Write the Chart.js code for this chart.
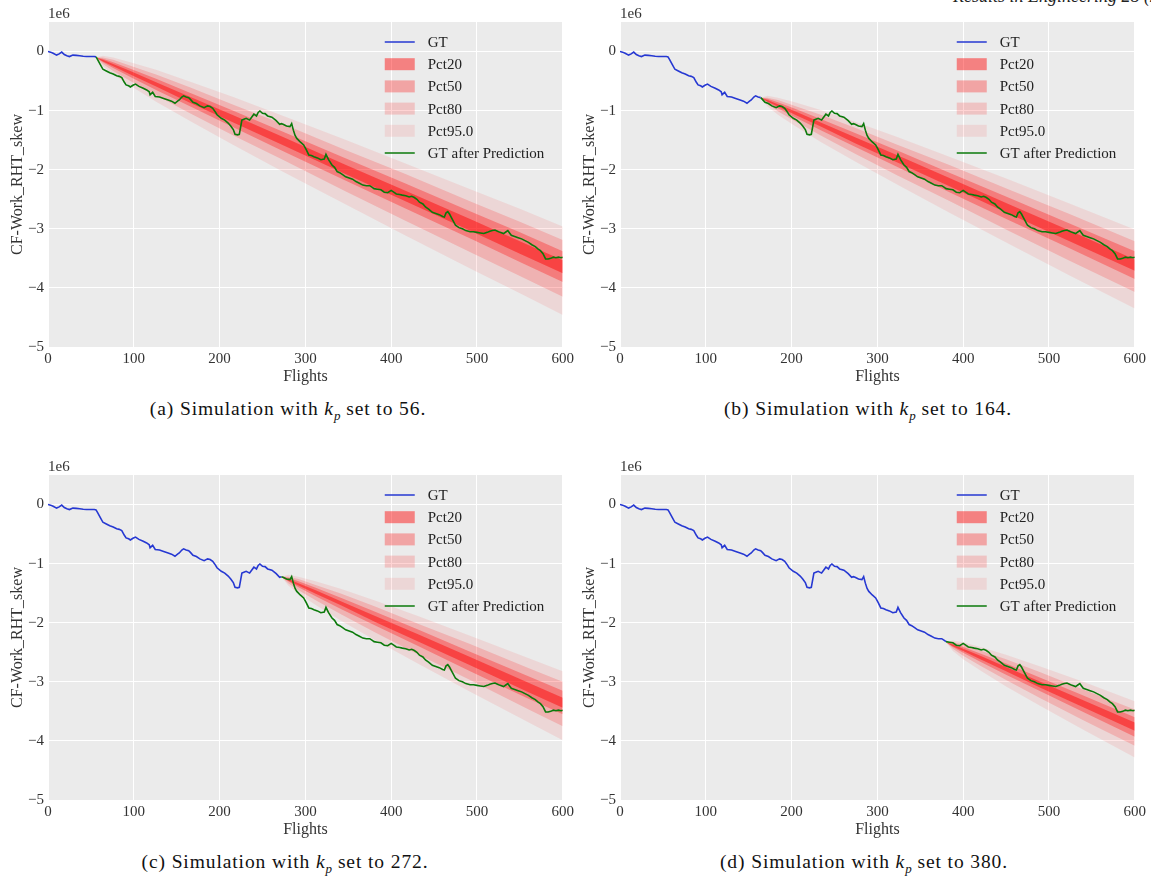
<!DOCTYPE html>
<html><head><meta charset="utf-8">
<script src="https://cdn.jsdelivr.net/npm/chart.js@4/dist/chart.umd.min.js"></script>
<style>
html,body{margin:0;padding:0;background:#fff;width:1151px;height:882px;overflow:hidden;position:relative;font-family:"Liberation Serif",serif;}
canvas.pan{position:absolute;}
.cap{position:absolute;font-size:19.5px;letter-spacing:0.9px;line-height:22px;color:#111;white-space:nowrap;transform:translateX(-50%);}
.cap sub{font-size:13px;letter-spacing:0;}
#hdr{position:absolute;left:953px;top:-13px;font-style:italic;font-size:18px;line-height:18px;white-space:nowrap;color:#222;}
</style></head><body>
<div id="hdr">Results in Engineering 28 (2025)</div>
<canvas id="ca" class="pan" width="577" height="390" style="left:0px;top:0px"></canvas>
<canvas id="cb" class="pan" width="577" height="390" style="left:572px;top:0px"></canvas>
<canvas id="cc" class="pan" width="577" height="390" style="left:0px;top:453px"></canvas>
<canvas id="cd" class="pan" width="577" height="390" style="left:572px;top:453px"></canvas>
<div class="cap" style="left:288px;top:398px">(a) Simulation with <i>k</i><sub><i>p</i></sub> set to 56.</div>
<div class="cap" style="left:868px;top:398px">(b) Simulation with <i>k</i><sub><i>p</i></sub> set to 164.</div>
<div class="cap" style="left:285px;top:851px">(c) Simulation with <i>k</i><sub><i>p</i></sub> set to 272.</div>
<div class="cap" style="left:864px;top:851px">(d) Simulation with <i>k</i><sub><i>p</i></sub> set to 380.</div>
<script>
// ---------- data ----------
const xTicks = [0, 100, 200, 300, 400, 500, 600];
const yTicks = [-5, -4, -3, -2, -1, 0];
const offsetLabel = '1e6';
const xTitle = 'Flights';
const yTitle = 'CF-Work_RHT_skew';
const legendLabels = ['GT', 'Pct20', 'Pct50', 'Pct80', 'Pct95.0', 'GT after Prediction'];
const kpValues = [56, 164, 272, 380];

const gtFlights = [0,3,6,10,13,16,19,22,25,29,33,37,41,45,50,54,56,58,61,64,68,72,76,80,83,86,89,91,94,96,99,102,106,111,115,118,119,122,125,130,134,140,144,148,151,153,156,158,161,164,166,169,173,177,182,186,189,192,195,197,202,206,210,213,216,218,221,223,226,229,231,235,238,240,243,245,247,250,253,256,261,266,270,272,274,278,282,284,286,288,290,294,298,301,304,307,310,314,318,322,324,327,331,334,337,340,343,347,351,355,359,363,367,371,375,378,380,384,388,392,396,400,403,406,410,413,417,421,424,427,430,433,437,440,444,448,452,456,460,462,464,466,468,471,475,479,483,487,492,496,500,504,508,512,515,518,521,524,527,531,534,536,538,540,544,548,552,556,560,564,568,571,574,577,580,583,586,589,592,595,598,600];
const gtValues = [0,-0.01,-0.03,-0.06,-0.04,-0.01,-0.05,-0.07,-0.085,-0.06,-0.065,-0.07,-0.08,-0.085,-0.085,-0.085,-0.09,-0.14,-0.22,-0.30,-0.33,-0.36,-0.38,-0.41,-0.42,-0.44,-0.52,-0.565,-0.58,-0.60,-0.57,-0.55,-0.59,-0.62,-0.65,-0.68,-0.73,-0.69,-0.76,-0.77,-0.79,-0.82,-0.84,-0.875,-0.84,-0.82,-0.77,-0.75,-0.77,-0.78,-0.81,-0.86,-0.88,-0.92,-0.95,-0.92,-0.93,-0.96,-1.02,-1.07,-1.13,-1.16,-1.21,-1.26,-1.32,-1.40,-1.41,-1.40,-1.16,-1.14,-1.13,-1.16,-1.10,-1.06,-1.09,-1.03,-1.006,-1.045,-1.05,-1.09,-1.11,-1.17,-1.23,-1.22,-1.23,-1.26,-1.27,-1.22,-1.33,-1.42,-1.47,-1.53,-1.58,-1.66,-1.75,-1.76,-1.78,-1.80,-1.83,-1.82,-1.74,-1.83,-1.92,-1.96,-2.03,-2.05,-2.08,-2.12,-2.14,-2.16,-2.20,-2.23,-2.26,-2.27,-2.27,-2.30,-2.32,-2.33,-2.34,-2.38,-2.39,-2.35,-2.38,-2.41,-2.42,-2.43,-2.44,-2.46,-2.45,-2.47,-2.50,-2.55,-2.58,-2.63,-2.67,-2.72,-2.74,-2.76,-2.79,-2.80,-2.73,-2.71,-2.75,-2.83,-2.94,-2.98,-3.00,-3.03,-3.05,-3.05,-3.06,-3.07,-3.08,-3.06,-3.04,-3.03,-3.02,-3.04,-3.06,-3.08,-3.05,-3.03,-3.07,-3.11,-3.13,-3.15,-3.17,-3.20,-3.23,-3.27,-3.30,-3.34,-3.37,-3.42,-3.51,-3.51,-3.50,-3.48,-3.49,-3.48,-3.49,-3.48];

// panel (a) kp = 56
const bandFlightsA = [56,64,76,96,126,166,216,276,346,416,496,550,600];
const p95HiA = [-0.10,-0.07,-0.10,-0.18,-0.31,-0.51,-0.77,-1.10,-1.49,-1.89,-2.35,-2.66,-2.96];
const p80HiA = [-0.10,-0.10,-0.14,-0.24,-0.39,-0.61,-0.90,-1.24,-1.66,-2.07,-2.56,-2.88,-3.19];
const p50HiA = [-0.10,-0.12,-0.18,-0.29,-0.46,-0.70,-1.00,-1.37,-1.80,-2.23,-2.73,-3.06,-3.38];
const p20HiA = [-0.10,-0.14,-0.21,-0.33,-0.52,-0.77,-1.08,-1.46,-1.91,-2.35,-2.86,-3.21,-3.53];
const p20LoA = [-0.10,-0.17,-0.25,-0.39,-0.59,-0.87,-1.20,-1.60,-2.07,-2.53,-3.06,-3.42,-3.75];
const p50LoA = [-0.10,-0.18,-0.28,-0.43,-0.65,-0.93,-1.28,-1.70,-2.18,-2.65,-3.19,-3.56,-3.90];
const p80LoA = [-0.10,-0.21,-0.33,-0.50,-0.74,-1.05,-1.42,-1.85,-2.36,-2.86,-3.42,-3.80,-4.15];
const p95LoA = [-0.10,-0.25,-0.39,-0.58,-0.85,-1.18,-1.58,-2.05,-2.58,-3.11,-3.70,-4.09,-4.46];

// panel (b) kp = 164
const bandFlightsB = [164,172,184,204,234,274,324,384,454,524,600];
const p95HiB = [-0.78,-0.75,-0.78,-0.86,-0.99,-1.19,-1.45,-1.78,-2.17,-2.57,-3.01];
const p80HiB = [-0.78,-0.78,-0.82,-0.92,-1.07,-1.29,-1.58,-1.92,-2.34,-2.75,-3.21];
const p50HiB = [-0.78,-0.80,-0.86,-0.97,-1.14,-1.38,-1.68,-2.05,-2.48,-2.91,-3.38];
const p20HiB = [-0.78,-0.82,-0.89,-1.01,-1.20,-1.45,-1.76,-2.14,-2.59,-3.03,-3.52];
const p20LoB = [-0.78,-0.85,-0.93,-1.07,-1.27,-1.55,-1.88,-2.28,-2.75,-3.21,-3.71];
const p50LoB = [-0.78,-0.86,-0.96,-1.11,-1.33,-1.61,-1.96,-2.38,-2.86,-3.33,-3.85];
const p80LoB = [-0.78,-0.89,-1.01,-1.18,-1.42,-1.73,-2.10,-2.53,-3.04,-3.54,-4.07];
const p95LoB = [-0.78,-0.93,-1.07,-1.26,-1.53,-1.86,-2.26,-2.73,-3.26,-3.79,-4.35];

// panel (c) kp = 272
const bandFlightsC = [272,280,292,312,342,382,432,492,562,600];
const p95HiC = [-1.22,-1.19,-1.22,-1.30,-1.43,-1.63,-1.89,-2.22,-2.61,-2.82];
const p80HiC = [-1.22,-1.22,-1.26,-1.36,-1.51,-1.73,-2.02,-2.36,-2.78,-3.00];
const p50HiC = [-1.22,-1.24,-1.30,-1.41,-1.58,-1.82,-2.12,-2.49,-2.92,-3.15];
const p20HiC = [-1.22,-1.26,-1.33,-1.45,-1.64,-1.89,-2.20,-2.58,-3.03,-3.27];
const p20LoC = [-1.22,-1.29,-1.37,-1.51,-1.71,-1.99,-2.32,-2.72,-3.19,-3.44];
const p50LoC = [-1.22,-1.30,-1.40,-1.55,-1.77,-2.05,-2.40,-2.82,-3.30,-3.55];
const p80LoC = [-1.22,-1.33,-1.45,-1.62,-1.86,-2.17,-2.54,-2.97,-3.48,-3.75];
const p95LoC = [-1.22,-1.37,-1.51,-1.70,-1.97,-2.30,-2.70,-3.17,-3.70,-3.99];

// panel (d) kp = 380
const bandFlightsD = [380,388,400,420,450,490,540,600];
const p95HiD = [-2.33,-2.30,-2.33,-2.41,-2.54,-2.74,-3.00,-3.33];
const p80HiD = [-2.33,-2.33,-2.37,-2.47,-2.62,-2.84,-3.13,-3.47];
const p50HiD = [-2.33,-2.35,-2.41,-2.52,-2.69,-2.93,-3.23,-3.60];
const p20HiD = [-2.33,-2.37,-2.44,-2.56,-2.75,-3.00,-3.31,-3.69];
const p20LoD = [-2.33,-2.40,-2.48,-2.62,-2.82,-3.10,-3.43,-3.83];
const p50LoD = [-2.33,-2.41,-2.51,-2.66,-2.88,-3.16,-3.51,-3.93];
const p80LoD = [-2.33,-2.44,-2.56,-2.73,-2.97,-3.28,-3.65,-4.08];
const p95LoD = [-2.33,-2.48,-2.62,-2.81,-3.08,-3.41,-3.81,-4.28];

// ---------- styling ----------
const FONT = '"Liberation Serif", "Times New Roman", serif';
const TXT = '#333333';
const BLUE = '#2638d2';
const GREEN = '#0b7a0b';
const bandAlpha = {p20: 0.45, p50: 0.30, p80: 0.17, p95: 0.085};
const red = a => 'rgba(255,0,0,' + a + ')';

const pts = (xs, ys) => xs.map((x, i) => ({x: x, y: ys[i]}));

const bgPlugin = {
  id: 'bg',
  beforeDraw(chart) {
    const {ctx, chartArea: a} = chart;
    ctx.save();
    ctx.fillStyle = '#EBEBEB';
    ctx.fillRect(a.left, a.top, a.right - a.left, a.bottom - a.top);
    ctx.restore();
  }
};

const decoPlugin = {
  id: 'deco',
  afterDraw(chart) {
    const {ctx, chartArea: a} = chart;
    ctx.save();
    ctx.font = '15px ' + FONT;
    ctx.fillStyle = TXT;
    ctx.textBaseline = 'middle';
    ctx.textAlign = 'left';
    ctx.fillText(offsetLabel, a.left, a.top - 8);
    // legend
    const lx = a.right - 178, lw = 30, tx = a.right - 135;
    const swatch = [null, bandAlpha.p20, bandAlpha.p50, bandAlpha.p80, bandAlpha.p95, null];
    legendLabels.forEach((lab, i) => {
      const y = a.top + 20 + i * 22.2;
      if (i === 0 || i === 5) {
        ctx.strokeStyle = i === 0 ? BLUE : GREEN;
        ctx.lineWidth = 1.5;
        ctx.beginPath(); ctx.moveTo(lx, y); ctx.lineTo(lx + lw, y); ctx.stroke();
      } else {
        ctx.fillStyle = red(swatch[i]);
        ctx.fillRect(lx, y - 6, lw, 12);
      }
      ctx.fillStyle = '#222';
      ctx.font = '15px ' + FONT;
      ctx.fillText(lab, tx, y + 1);
    });
    ctx.restore();
  }
};

function makePanel(id, kp, bx, b) {
  const blue = [], green = [];
  gtFlights.forEach((f, i) => {
    if (f <= kp) blue.push({x: f, y: gtValues[i]});
    if (f >= kp) green.push({x: f, y: gtValues[i]});
  });
  const line = (data, color) => ({data, borderColor: color, borderWidth: 1.6, pointRadius: 0, tension: 0, fill: false, order: 0});
  const hi = (data, a) => ({data, borderWidth: 0, borderColor: 'rgba(0,0,0,0)', backgroundColor: red(a), pointRadius: 0, tension: 0, fill: '+1', order: 1});
  const lo = (data) => ({data, borderWidth: 0, borderColor: 'rgba(0,0,0,0)', pointRadius: 0, tension: 0, fill: false, order: 1});
  const datasets = [
    line(blue, BLUE),
    line(green, GREEN),
    hi(pts(bx, b[0]), bandAlpha.p95), lo(pts(bx, b[7])),
    hi(pts(bx, b[1]), bandAlpha.p80), lo(pts(bx, b[6])),
    hi(pts(bx, b[2]), bandAlpha.p50), lo(pts(bx, b[5])),
    hi(pts(bx, b[3]), bandAlpha.p20), lo(pts(bx, b[4]))
  ];
  new Chart(document.getElementById(id), {
    type: 'line',
    data: {datasets},
    plugins: [bgPlugin, decoPlugin],
    options: {
      responsive: false, animation: false, devicePixelRatio: 1,
      layout: {padding: {top: 22, right: 12, left: 0, bottom: 0}},
      plugins: {legend: {display: false}, tooltip: {enabled: false}},
      scales: {
        x: {
          type: 'linear', min: 0, max: 600,
          afterBuildTicks: s => { s.ticks = xTicks.map(v => ({value: v})); },
          afterFit: s => { s.height = 43; },
          grid: {color: '#ffffff', lineWidth: 1, drawTicks: false},
          border: {display: false},
          ticks: {color: TXT, font: {family: FONT, size: 15}, padding: 3, autoSkip: false, maxRotation: 0},
          title: {display: true, text: xTitle, color: TXT, font: {family: FONT, size: 16}, padding: {top: 0, bottom: 4}}
        },
        y: {
          type: 'linear', min: -5, max: 0.5,
          afterBuildTicks: s => { s.ticks = yTicks.map(v => ({value: v})); },
          afterFit: s => { s.width = 48; },
          grid: {color: '#ffffff', lineWidth: 1, drawTicks: false},
          border: {display: false},
          ticks: {color: TXT, font: {family: FONT, size: 15}, padding: 4,
                  callback: v => v === 0 ? '0' : '\u2212' + Math.abs(v)},
          title: {display: true, text: yTitle, color: TXT, font: {family: FONT, size: 16}, padding: {top: 8, bottom: 0}}
        }
      }
    }
  });
}

makePanel('ca', kpValues[0], bandFlightsA, [p95HiA, p80HiA, p50HiA, p20HiA, p20LoA, p50LoA, p80LoA, p95LoA]);
makePanel('cb', kpValues[1], bandFlightsB, [p95HiB, p80HiB, p50HiB, p20HiB, p20LoB, p50LoB, p80LoB, p95LoB]);
makePanel('cc', kpValues[2], bandFlightsC, [p95HiC, p80HiC, p50HiC, p20HiC, p20LoC, p50LoC, p80LoC, p95LoC]);
makePanel('cd', kpValues[3], bandFlightsD, [p95HiD, p80HiD, p50HiD, p20HiD, p20LoD, p50LoD, p80LoD, p95LoD]);
</script>
</body></html>
